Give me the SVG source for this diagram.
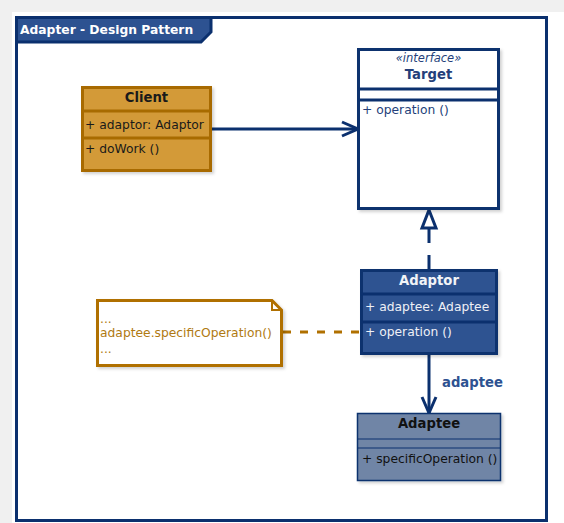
<svg xmlns="http://www.w3.org/2000/svg" width="564" height="523" viewBox="0 0 564 523">
<defs>
<style>
text{font-family:"DejaVu Sans","Verdana",sans-serif;font-size:12.3px}
.b{font-weight:bold}
.h{font-size:13.2px}
.nav{stroke:#0B306E;stroke-width:3}
.w{fill:#ffffff}
.tgt{fill:#243F7A}
.adp{fill:#EEF0F6}
.nt{fill:#B07A12}
</style>
<filter id="sh" x="-10%" y="-10%" width="130%" height="130%">
<feDropShadow dx="2" dy="2" stdDeviation="1.5" flood-color="#000" flood-opacity="0.18"/>
</filter>
<marker id="open" viewBox="0 0 20 20" refX="18" refY="10" markerWidth="20" markerHeight="20" markerUnits="userSpaceOnUse" orient="auto">
<path d="M2,3 L18,10 L2,17" fill="none" stroke="#0B306E" stroke-width="3"/>
</marker>
</defs>
<rect x="0" y="0" width="564" height="523" fill="#F0F0F0"/>
<rect x="12" y="12" width="552" height="511" fill="#ffffff"/>
<g id="frame">
<rect x="16.5" y="17.5" width="530" height="503" fill="none" class="nav"/>
<path d="M16.5,17.5 H211 V32 L201,42 H16.5 Z" fill="#2D5291" class="nav"/>
<text x="20" y="34" class="b w" fill="#ffffff">Adapter - Design Pattern</text>
</g>
<g id="connectors">
<line x1="211" y1="129" x2="358" y2="129" stroke="#0B306E" stroke-width="3" marker-end="url(#open)"/>
<line x1="429" y1="270" x2="429" y2="228" stroke="#0B306E" stroke-width="3" stroke-dasharray="15,12"/>
<path d="M429,210 L436,228 L422,228 Z" fill="#ffffff" stroke="#0B306E" stroke-width="3" stroke-linejoin="miter"/>
<line x1="429" y1="354" x2="429" y2="413" stroke="#0B306E" stroke-width="3" marker-end="url(#open)"/>
<text x="442" y="387" class="b h" fill="#2D5291">adaptee</text>
<line x1="283" y1="332" x2="361" y2="332" stroke="#B07000" stroke-width="3" stroke-dasharray="8,9"/>
</g>
<g id="client">
<rect x="82.5" y="87.5" width="128" height="83" fill="#D39A38" stroke="#A86B00" stroke-width="3" filter="url(#sh)"/>
<line x1="82.5" y1="111" x2="210.5" y2="111" stroke="#A86B00" stroke-width="3"/>
<line x1="82.5" y1="138" x2="210.5" y2="138" stroke="#A86B00" stroke-width="3"/>
<text x="146.5" y="102" text-anchor="middle" class="b h" fill="#1a1a1a">Client</text>
<text x="85" y="129" fill="#1a1a1a">+ adaptor: Adaptor</text>
<text x="85" y="153" fill="#1a1a1a">+ doWork ()</text>
</g>
<g id="target">
<rect x="358.5" y="49.5" width="140" height="159" fill="#ffffff" class="nav" filter="url(#sh)"/>
<line x1="358.5" y1="89" x2="498.5" y2="89" class="nav"/>
<line x1="358.5" y1="100" x2="498.5" y2="100" class="nav"/>
<text x="428.5" y="62" text-anchor="middle" font-style="italic" style="font-size:11.5px" class="tgt">«interface»</text>
<text x="428.5" y="79" text-anchor="middle" class="b h tgt">Target</text>
<text x="362" y="114" class="tgt">+ operation ()</text>
</g>
<g id="adaptor">
<rect x="361.5" y="270.5" width="135" height="83" fill="#2D5291" class="nav" filter="url(#sh)"/>
<line x1="361.5" y1="294" x2="496.5" y2="294" class="nav"/>
<line x1="361.5" y1="322" x2="496.5" y2="322" class="nav"/>
<text x="429" y="285" text-anchor="middle" class="b h" fill="#F2F4F8">Adaptor</text>
<text x="365" y="311" class="adp">+ adaptee: Adaptee</text>
<text x="365" y="336" class="adp">+ operation ()</text>
</g>
<g id="note">
<path d="M97.5,300.5 H272 L281.5,310 V365.5 H97.5 Z" fill="#ffffff" stroke="#B07000" stroke-width="3" filter="url(#sh)"/>
<path d="M272,300.5 V310 H281.5" fill="none" stroke="#B07000" stroke-width="2"/>
<text x="100" y="323" class="nt">...</text>
<text x="100" y="337" class="nt">adaptee.specificOperation()</text>
<text x="100" y="353" class="nt">...</text>
</g>
<g id="adaptee">
<rect x="357.5" y="413.5" width="143" height="67" fill="#7085A6" stroke="#0B306E" stroke-width="1.5" filter="url(#sh)"/>
<line x1="357.5" y1="439" x2="500.5" y2="439" stroke="#0B306E" stroke-width="1.2"/>
<line x1="357.5" y1="448" x2="500.5" y2="448" stroke="#0B306E" stroke-width="1.2"/>
<text x="429" y="428" text-anchor="middle" class="b h" fill="#111111">Adaptee</text>
<text x="362" y="463" fill="#111111">+ specificOperation ()</text>
</g>
</svg>
